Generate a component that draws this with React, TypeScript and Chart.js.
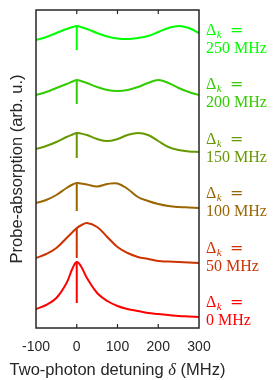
import React, { useEffect, useRef } from "react";
import { Chart, registerables } from "chart.js";

Chart.register(...registerables);

// Two-photon detuning grid (MHz)
const DELTA = [-100, -75, -50, -25, -10, 0, 10, 25, 50, 75, 100, 125, 150, 175, 200, 225, 250, 275, 300];

// Probe absorption (arb. u., vertically offset traces), one per coupling detuning Δk
const ABS_0 = [19, 23, 30, 45, 60, 66, 62, 50, 35, 27, 22, 19, 17, 15, 14, 13, 12, 11.5, 11];
const ABS_50 = [70, 74, 80, 90, 96, 100, 102.5, 105, 101, 91, 81, 75, 71, 69, 67, 66.5, 66, 65.5, 65];
const ABS_100 = [125, 128, 133, 140, 143.5, 145, 144.5, 143.5, 141.5, 144, 144.5, 139, 131, 127, 124, 122, 121, 120.5, 120];
const ABS_150 = [179, 182, 186, 191, 193.5, 195, 194.5, 193, 189, 187, 189, 193, 195, 193, 187, 181, 178, 176.5, 176];
const ABS_200 = [233, 236, 240, 244, 246.5, 248, 247, 245, 241, 238, 237, 238, 241, 245, 248, 245, 240, 236, 233];
const ABS_250 = [288, 291, 295, 299, 301, 302, 301, 299, 295, 291.5, 289.5, 289, 290, 292, 296, 300, 302, 300, 295];

// Bottom of the narrow two-photon dip at δ = 0 for each trace
const DIP_BOTTOM = [25, 70, 117, 170, 224, 278];

const SERIES = [ABS_0, ABS_50, ABS_100, ABS_150, ABS_200, ABS_250];
const DK_LABELS = ["0 MHz", "50 MHz", "100 MHz", "150 MHz", "200 MHz", "250 MHz"];
const COLORS = ["rgb(255,0,0)", "rgb(204,51,0)", "rgb(153,102,0)", "rgb(102,153,0)", "rgb(51,204,0)", "rgb(0,255,0)"];

const X_TICKS = [-100, 0, 100, 200, 300];
const Y_TITLE = "Probe-absorption (arb. u.)";
const X_TITLE_A = "Two-photon detuning ";
const X_TITLE_B = "δ";
const X_TITLE_C = " (MHz)";

const AXIS_COLOR = "#262626";
const SANS = "'Liberation Sans', Arial, sans-serif";
const SERIF = "'Liberation Serif', 'Times New Roman', serif";

const decorPlugin = {
  id: "decor",
  afterDraw(chart: any) {
    const { ctx, chartArea } = chart;
    const xs = chart.scales.x;
    const { left, right, top, bottom } = chartArea;
    ctx.save();
    ctx.strokeStyle = AXIS_COLOR;
    ctx.lineWidth = 1.5;
    ctx.strokeRect(left, top, right - left, bottom - top);
    ctx.lineWidth = 1.2;
    X_TICKS.forEach((v) => {
      const px = xs.getPixelForValue(v);
      if (px <= left + 1 || px >= right - 1) return;
      ctx.beginPath();
      ctx.moveTo(px, bottom);
      ctx.lineTo(px, bottom - 4);
      ctx.moveTo(px, top);
      ctx.lineTo(px, top + 4);
      ctx.stroke();
    });
    // x title with italic delta
    ctx.fillStyle = AXIS_COLOR;
    ctx.textBaseline = "alphabetic";
    ctx.textAlign = "left";
    const fA = `16.5px ${SANS}`;
    const fB = `italic 16.5px ${SERIF}`;
    ctx.font = fA;
    const wA = ctx.measureText(X_TITLE_A).width;
    const wC = ctx.measureText(X_TITLE_C).width;
    ctx.font = fB;
    const wB = ctx.measureText(X_TITLE_B).width;
    const total = wA + wB + wC;
    const x0 = (left + right) / 2 - total / 2;
    const by = 375;
    ctx.font = fA;
    ctx.fillText(X_TITLE_A, x0, by);
    ctx.font = fB;
    ctx.fillText(X_TITLE_B, x0 + wA, by);
    ctx.font = fA;
    ctx.fillText(X_TITLE_C, x0 + wA + wB, by);
    // right-hand labels
    const lx = right + 7;
    for (let i = 0; i < DK_LABELS.length; i++) {
      const idx = DK_LABELS.length - 1 - i;
      const b1 = 35 + i * 54.4;
      ctx.fillStyle = COLORS[idx];
      ctx.font = `16px ${SERIF}`;
      ctx.fillText("Δ", lx, b1);
      const wD = ctx.measureText("Δ").width;
      ctx.font = `italic 11px ${SERIF}`;
      ctx.fillText("k", lx + wD + 0.5, b1 + 3);
      ctx.font = `16px 'DejaVu Serif', serif`;
      ctx.fillText("=", lx + 24, b1);
      ctx.font = `16px ${SERIF}`;
      ctx.fillText(DK_LABELS[idx], lx, b1 + 18);
    }
    ctx.restore();
  },
};

export default function App() {
  const ref = useRef<HTMLCanvasElement | null>(null);
  useEffect(() => {
    if (!ref.current) return;
    const curveSets = SERIES.map((s, i) => ({
      label: DK_LABELS[i],
      data: s.map((v, j) => ({ x: DELTA[j], y: v })),
      borderColor: COLORS[i],
      backgroundColor: COLORS[i],
      borderWidth: 2,
      pointRadius: 0,
      tension: 0.4,
      fill: false,
    }));
    const dipSets = SERIES.map((s, i) => {
      const j0 = DELTA.indexOf(0);
      return {
        label: DK_LABELS[i] + " dip",
        data: [
          { x: 0, y: s[j0] },
          { x: 0, y: DIP_BOTTOM[i] },
        ],
        borderColor: COLORS[i],
        backgroundColor: COLORS[i],
        borderWidth: 2,
        pointRadius: 0,
        tension: 0,
        fill: false,
      };
    });
    const chart = new Chart(ref.current, {
      type: "line",
      data: { datasets: [...curveSets, ...dipSets] },
      options: {
        animation: false,
        responsive: false,
        devicePixelRatio: 1,
        layout: { padding: { top: 10, right: 74, left: 0, bottom: 0 } },
        plugins: { legend: { display: false }, tooltip: { enabled: false } },
        scales: {
          x: {
            type: "linear",
            min: -100,
            max: 300,
            afterBuildTicks: (s: any) => {
              s.ticks = X_TICKS.map((v) => ({ value: v }));
            },
            afterFit: (s: any) => {
              s.height = 52;
            },
            grid: { display: false, drawTicks: false },
            border: { display: false },
            ticks: { color: AXIS_COLOR, font: { size: 14, family: SANS }, padding: 11, maxRotation: 0 },
          },
          y: {
            type: "linear",
            min: 0,
            max: 318,
            afterFit: (s: any) => {
              s.width = 36;
            },
            grid: { display: false, drawTicks: false },
            border: { display: false },
            ticks: { display: false },
            title: {
              display: true,
              text: Y_TITLE,
              color: AXIS_COLOR,
              font: { size: 16.5, family: SANS },
              padding: { top: 8, bottom: 0 },
            },
          },
        },
      },
      plugins: [decorPlugin],
    });
    return () => chart.destroy();
  }, []);
  return (
    <div style={{ position: "fixed", left: 0, top: 0, width: 273, height: 380 }}>
      <canvas ref={ref} width={273} height={380} style={{ display: "block" }} />
    </div>
  );
}
